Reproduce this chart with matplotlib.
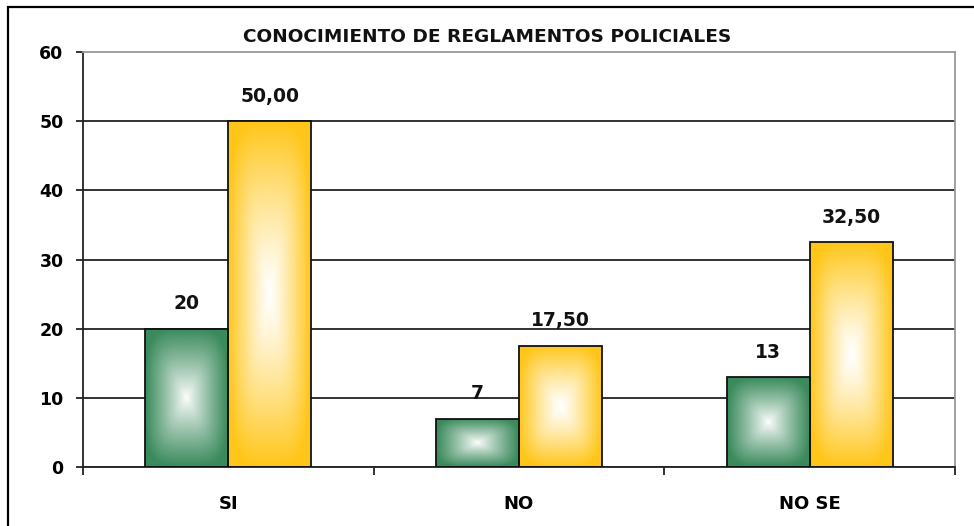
''' conocimiento de reglamentos policiales '''
import numpy as np
import matplotlib
matplotlib.use('Agg')
import matplotlib.pyplot as plt
from matplotlib.patches import Rectangle
from matplotlib.colors import to_rgb

categories = ['SI', 'NO', 'NO SE']
cantidad = [20, 7, 13]
porcentaje = [50.00, 17.50, 32.50]
cantidad_labels = ['20', '7', '13']
porcentaje_labels = ['50,00', '17,50', '32,50']
yticks = [0, 10, 20, 30, 40, 50, 60]
title = 'CONOCIMIENTO DE REGLAMENTOS POLICIALES'

GREEN = '#3a8a5c'
GOLD = '#ffc61a'


def fill_from_center(ax, bars, color, power=1.1):
    ''' rectangular gradient, white in the middle, color at the edges '''
    n = 160
    u = np.linspace(-1, 1, n)
    uu, vv = np.meshgrid(u, u)
    d = (np.abs(uu) ** 4 + np.abs(vv) ** 4) ** 0.25
    d = np.clip(d, 0, 1) ** power
    edge = np.array(to_rgb(color))
    img = 1 - (1 - edge)[None, None, :] * d[:, :, None]
    for bar in bars:
        x, y = bar.get_x(), bar.get_y()
        w, h = bar.get_width(), bar.get_height()
        im = ax.imshow(img, extent=(x, x + w, y, y + h), aspect='auto',
                       interpolation='bilinear', zorder=2)
        im.set_clip_path(bar)


def main():
    fig = plt.figure(figsize=(9.74, 5.26), dpi=100)
    ax = fig.add_axes([0.0852, 0.1122, 0.8953, 0.7889])

    x = np.arange(len(categories))
    w = 0.285
    b1 = ax.bar(x - w / 2, cantidad, w, facecolor='none', edgecolor='#111111',
                linewidth=1.3, zorder=3)
    b2 = ax.bar(x + w / 2, porcentaje, w, facecolor='none', edgecolor='#111111',
                linewidth=1.3, zorder=3)
    fill_from_center(ax, b1, GREEN, power=0.9)
    fill_from_center(ax, b2, GOLD, power=1.2)

    for bars, labels in ((b1, cantidad_labels), (b2, porcentaje_labels)):
        for bar, lab in zip(bars, labels):
            ax.annotate(lab, (bar.get_x() + bar.get_width() / 2, bar.get_height()),
                        xytext=(0, 18), textcoords='offset points',
                        ha='center', va='center', fontsize=13.5,
                        fontweight='bold', color='#111111')

    ax.set_xlim(-0.5, 2.5)
    ax.set_ylim(0, 60)
    ax.set_yticks(yticks)
    ax.set_yticklabels([str(t) for t in yticks], fontsize=12.5, fontweight='bold')
    ax.set_xticks(x)
    ax.set_xticklabels(categories, fontsize=13, fontweight='bold')
    ax.set_xticks([-0.5, 0.5, 1.5, 2.5], minor=True)
    ax.tick_params(axis='x', which='major', length=0, pad=20)
    ax.tick_params(axis='x', which='minor', length=6, width=1.3, color='#222222')
    ax.tick_params(axis='y', length=5, width=1.3, color='#222222', pad=9)

    ax.set_axisbelow(True)
    ax.yaxis.grid(True, color='#222222', linewidth=1.3)
    ax.get_ygridlines()[-1].set_visible(False)
    for side in ('left', 'bottom'):
        ax.spines[side].set_color('#222222')
        ax.spines[side].set_linewidth(1.3)
    for side in ('top', 'right'):
        ax.spines[side].set_color('#999999')
        ax.spines[side].set_linewidth(1.3)

    fig.text(0.5, 0.93, title, ha='center', va='center', fontsize=13.3,
             fontweight='bold', color='#111111')

    fig.patches.append(Rectangle((8 / 974, -0.2), 1.2, 1.2 - 7 / 526,
                                 transform=fig.transFigure, fill=False,
                                 edgecolor='black', linewidth=1.6))
    fig.savefig('out.png', dpi=100)


if __name__ == '__main__':
    main()
